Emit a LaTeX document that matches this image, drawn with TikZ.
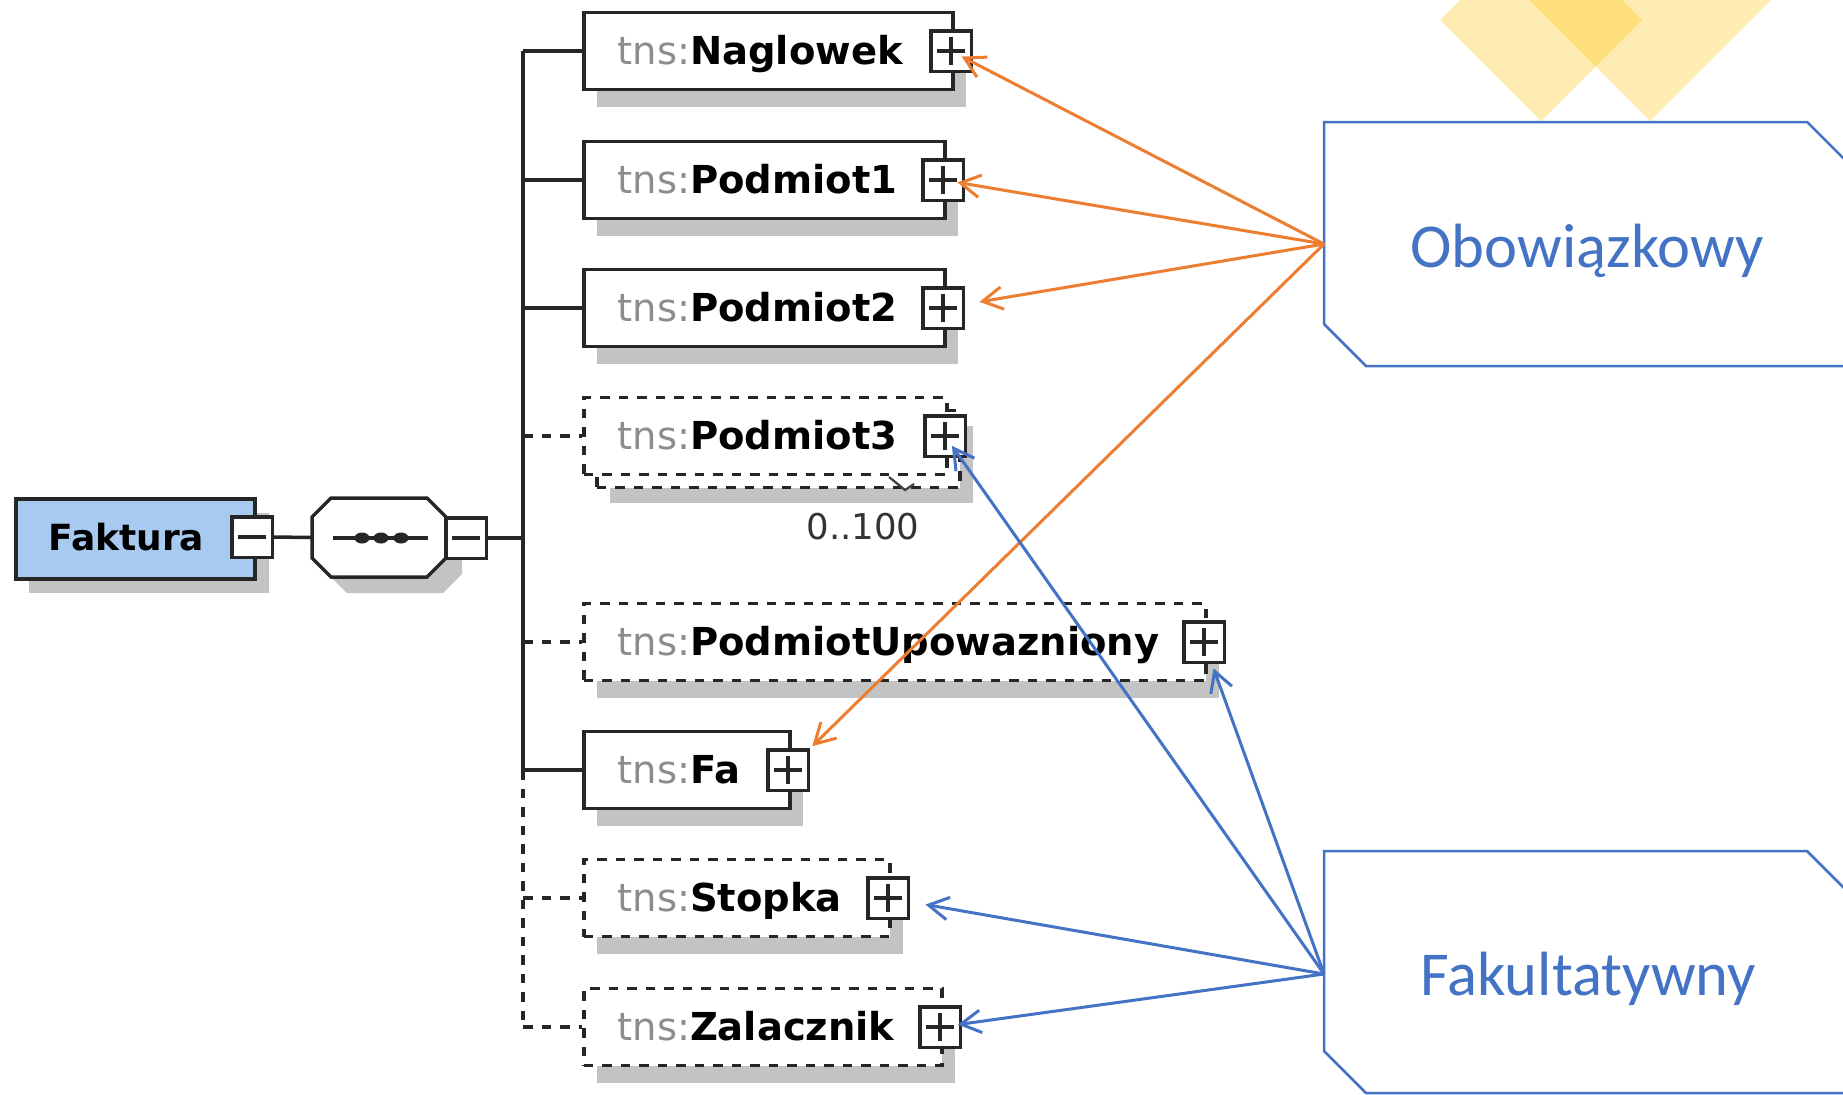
\documentclass[tikz,border=0pt]{standalone}
\usepackage{fontspec}
\setmainfont{DejaVu Sans}
\newfontfamily\calloutfont{Carlito}
\usetikzlibrary{arrows.meta}

\definecolor{shadowgray}{HTML}{C3C3C3}
\definecolor{prefixgray}{HTML}{8C8C8C}
\definecolor{rootblue}{HTML}{A8CAF0}
\definecolor{accentblue}{HTML}{4472C4}
\definecolor{accentorange}{HTML}{ED7D31}
\definecolor{gold}{HTML}{FFC000}

\tikzset{
  tree/.style={line width=1.4pt, draw=black!85},
  optline/.style={tree, dash pattern=on 3.8pt off 3.6pt},
  elbox/.style={draw=black!85, fill=white, line width=1.4pt, anchor=west,
                minimum height=30.8pt, inner sep=0pt},
  reqb/.style={},
  optb/.style={dash pattern=on 3.8pt off 3.6pt},
  eltext/.style={anchor=base west, inner sep=0pt, font=\fontsize{15.4}{18}\selectfont},
  togglebox/.style={draw=black!85, fill=white, line width=1.4pt,
                    minimum width=16.2pt, minimum height=16.2pt, inner sep=0pt},
  plusbox/.style={togglebox, path picture={
      \draw[line width=1.4pt]
        ([xshift=-5.6pt]path picture bounding box.center) -- ([xshift=5.6pt]path picture bounding box.center)
        ([yshift=-5.6pt]path picture bounding box.center) -- ([yshift=5.6pt]path picture bounding box.center);}},
  minusbox/.style={togglebox, path picture={
      \draw[line width=1.4pt]
        ([xshift=-5.6pt]path picture bounding box.center) -- ([xshift=5.6pt]path picture bounding box.center);}},
  pointer/.style={line width=1.2pt, -{Straight Barb[length=8pt,width=9pt]}},
  mandatory/.style={pointer, draw=accentorange},
  optional/.style={pointer, draw=accentblue},
  callout/.style={draw=accentblue, line width=1pt, fill=white},
  callouttext/.style={anchor=base, inner sep=0pt, text=accentblue,
                      font=\calloutfont\fontsize{25}{30}\selectfont},
}

% child element: #1 name, #2 row y, #3 right edge x, #4 local name, #5 border style
\newcommand\schemaelement[5]{%
  \fill[shadowgray] (597,#2-21.5) rectangle (#3+15,#2+55.5);
  \node[elbox,#5,minimum width={(#3-582)*0.4pt}] (#1) at (582,#2) {};
  \node[eltext] at (617,#2+13.5) {\textcolor{prefixgray}{tns:}\textbf{#4}};
  \node[plusbox] (#1p) at (#3,#2) {};
}

\begin{document}
\begin{tikzpicture}[x=0.4pt, y=-0.4pt]
\useasboundingbox (0,0) rectangle (1843,1094);

% decorative diamonds
\begin{scope}
  \clip (0,0) rectangle (1843,1094);
  \fill[gold, fill opacity=0.3] (1440,20) -- (1541,-81) -- (1642,20) -- (1541,121) -- cycle;
  \fill[gold, fill opacity=0.3] (1525,-4) -- (1650,-129) -- (1775,-4) -- (1650,121) -- cycle;
\end{scope}

% root element
\fill[shadowgray] (29,513) rectangle (269,593);
\node[draw=black!85, fill=rootblue, line width=1.4pt, anchor=north west,
      minimum width=95.6pt, minimum height=32pt, inner sep=0pt] (faktura) at (14,497) {};
\node[anchor=base west, inner sep=0pt, font=\fontsize{14.4}{17}\selectfont] at (48,550) {\textbf{Faktura}};
\node[minusbox] (fakm) at (252,537) {};

% sequence compositor
\fill[shadowgray] (347,514) -- (443,514) -- (462,533) -- (462,574) -- (443,593)
                  -- (347,593) -- (328,574) -- (328,533) -- cycle;
\node[minimum width=53.6pt, minimum height=31.6pt, inner sep=0pt] (seq) at (379,537.5) {};
\draw[tree, fill=white] (331,498) -- (427,498) -- (446,517) -- (446,558) -- (427,577)
                        -- (331,577) -- (312,558) -- (312,517) -- cycle;
\draw[tree] (333,538) -- (428,538);
\foreach \dx in {362,381,401}
  \fill[black!85] (\dx,538) ellipse [x radius=3pt, y radius=2.2pt];
\node[minusbox] (seqm) at (466,538) {};
\coordinate (hub) at (523,538);

% child elements
\schemaelement{nag}{51}{951}{Naglowek}{reqb}
\schemaelement{pod1}{180}{943}{Podmiot1}{reqb}
\schemaelement{pod2}{308}{943}{Podmiot2}{reqb}

% repeated element (0..100), drawn as two stacked boxes
\fill[shadowgray] (610,425.5) rectangle (973,502.5);
\node[elbox,optb,minimum width={(958-595)*0.4pt}] (pod3back) at (595,449) {};
\node[elbox,optb,minimum width={(945-582)*0.4pt}] (pod3) at (582,436) {};
\node[eltext] at (617,449.5) {\textcolor{prefixgray}{tns:}\textbf{Podmiot3}};
\node[plusbox] (pod3p) at (945,436) {};
\draw[black!75, line width=0.9pt] (889,477) -- (905,490) -- (914,484);
\node[inner sep=0pt, text=black!80, font=\fontsize{14.2}{16}\selectfont] (occ) at (863,527) {0..100};

\schemaelement{podup}{642}{1204}{PodmiotUpowazniony}{optb}
\schemaelement{fa}{770}{788}{Fa}{reqb}
\schemaelement{stopka}{898}{888}{Stopka}{optb}
\schemaelement{zal}{1027}{940}{Zalacznik}{optb}

% tree connectors
\draw[tree] (fakm.east) -- (seq.west);
\draw[tree] (seqm.east) -- (hub);
\draw[tree] (nag.west -| hub) -- (fa.west -| hub);
\draw[optline] (fa.west -| hub) -- (zal.west -| hub);
\draw[tree] (nag.west -| hub) -- (nag.west);
\draw[tree] (pod1.west -| hub) -- (pod1.west);
\draw[tree] (pod2.west -| hub) -- (pod2.west);
\draw[optline] (pod3.west -| hub) -- (pod3.west);
\draw[optline] (podup.west -| hub) -- (podup.west);
\draw[tree] (fa.west -| hub) -- (fa.west);
\draw[optline] (stopka.west -| hub) -- (stopka.west);
\draw[optline] (zal.west -| hub) -- (zal.west);

% legend callouts
\draw[callout] (1324,122) -- (1807,122) -- (1849,164) -- (1849,366) -- (1366,366) -- (1324,324) -- cycle;
\node[callouttext] (obotext) at (1587,267) {Obowiązkowy};
\coordinate (obo) at (1324,244);
\draw[callout] (1324,851) -- (1807,851) -- (1849,893) -- (1849,1093) -- (1366,1093) -- (1324,1051) -- cycle;
\node[callouttext] (faktext) at (1588,995) {Fakultatywny};
\coordinate (fak) at (1324,974);

% pointers to mandatory elements
\draw[mandatory, shorten >=4.8pt] (obo) -- (nagp.center);
\draw[mandatory, shorten >=5.8pt] (obo) -- (pod1p.center);
\draw[mandatory, shorten >=14.8pt] (obo) -- (pod2p.center);
\draw[mandatory, shorten >=13.6pt] (obo) -- (fap.center);

% pointers to optional elements
\draw[optional, shorten >=4.8pt] (fak) -- (pod3p.center);
\draw[optional, shorten >=11.2pt] (fak) -- (podupp.center);
\draw[optional, shorten >=15.2pt] (fak) -- (stopkap.center);
\draw[optional, shorten >=7.2pt] (fak) -- (zalp.center);
\end{tikzpicture}
\end{document}
